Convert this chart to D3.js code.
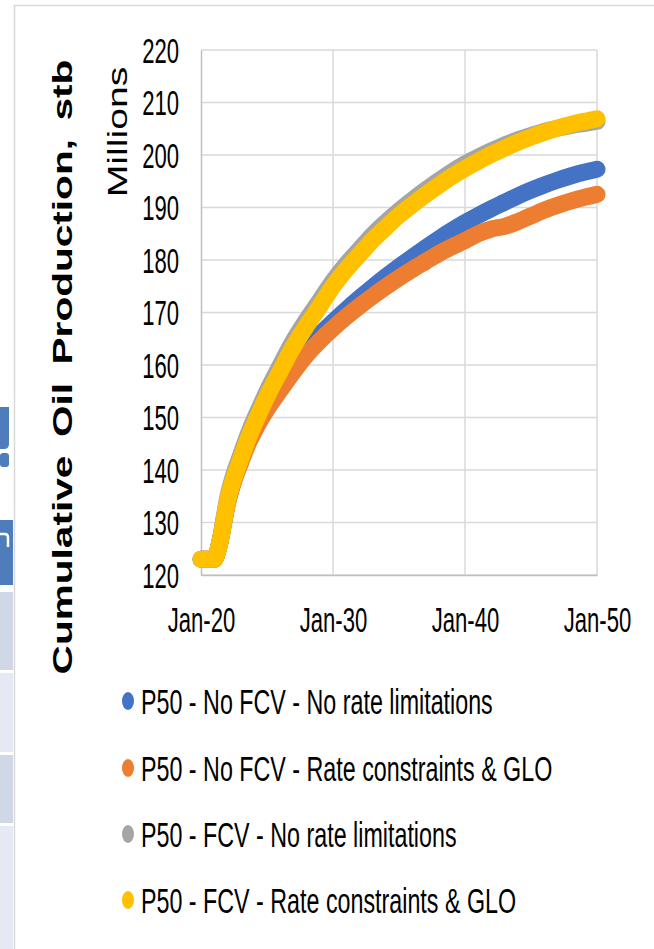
<!DOCTYPE html>
<html>
<head>
<meta charset="utf-8">
<script src="https://cdn.jsdelivr.net/npm/d3@7"></script>
<style>
  html, body { margin: 0; padding: 0; background: #fff; }
  svg { display: block; font-family: "Liberation Sans", Arial, sans-serif; }
</style>
</head>
<body>
<svg id="chart" width="654" height="949"></svg>
<script>
// Sample dates (denser during the ramp-up years)
const dates = [
  "2020-01","2021-01","2021-04","2021-07","2021-10","2022-01","2022-07","2023-01",
  "2023-07","2024-01","2024-07","2025-01","2026-01","2027-01","2028-01","2029-01",
  "2030-01","2031-01","2032-01","2033-01","2034-01","2035-01","2036-01","2037-01",
  "2038-01","2039-01","2040-01","2041-01","2042-01","2043-01","2044-01","2045-01",
  "2046-01","2047-01","2048-01","2049-01","2050-01"
];

// Cumulative oil production, millions of stb
const noFcvNoLimits = [
  123,123,124.4,127,130.4,133.7,138.2,141.7,145.2,148,150.4,152.6,
  156.4,160,163,165.8,168.2,170.5,172.7,174.8,176.8,178.7,180.5,182.3,
  184,185.6,187.1,188.5,189.8,191,192.2,193.3,194.3,195.2,196,196.7,197.3
];
const noFcvConstrained = [
  123,123,124.4,127,130.4,133.6,138,141.4,144.6,147.2,149.5,151.6,
  155.2,158.7,161.9,164.6,167,169.2,171.2,173.1,174.9,176.6,178.2,179.7,
  181.2,182.5,183.7,185,185.9,186.4,187.3,188.4,189.5,190.4,191.2,191.9,192.5
];
const fcvNoLimits = [
  123,123,124.5,127.2,130.9,134.5,139.2,142.8,146.3,149.4,152.2,155,
  159.9,164.6,168.6,172.3,176,179.2,182,184.8,187.2,189.4,191.4,193.3,
  195.1,196.8,198.3,199.6,200.8,201.9,202.9,203.7,204.5,205.1,205.6,206,206.4
];
const fcvConstrained = [
  123,123,124.4,127,130.5,134,138.5,142,145.5,148.5,151.3,154,
  158.8,163.5,167.5,171.2,175,178.2,181,183.8,186.2,188.5,190.5,192.4,
  194.2,195.9,197.4,198.8,200.1,201.3,202.4,203.4,204.3,205.1,205.8,206.4,206.9
];

const seriesNames = [
  "P50 - No FCV - No rate limitations",
  "P50 - No FCV - Rate constraints & GLO",
  "P50 - FCV - No rate limitations",
  "P50 - FCV - Rate constraints & GLO"
];
const seriesColors = ["#4472C4", "#ED7D31", "#A5A5A5", "#FFC000"];
const seriesValues = [noFcvNoLimits, noFcvConstrained, fcvNoLimits, fcvConstrained];

const yTicks = [120,130,140,150,160,170,180,190,200,210,220];
const xTickYears = ["2020-01","2030-01","2040-01","2050-01"];

const yAxisTitle = "Cumulative Oil Production, stb";
const yUnitLabel = "Millions";

const parseMonth = d3.timeParse("%Y-%m");
const svg = d3.select("#chart");

// Frame of the surrounding sheet
const deco = svg.append("g");
deco.append("path").attr("d", "M0,407 H9 V444 Q9,449 4,449 H0 Z").attr("fill", "#4f7cba");
deco.append("rect").attr("x", 0).attr("y", 453).attr("width", 9).attr("height", 14).attr("rx", 3).attr("fill", "#4f7cba");
deco.append("rect").attr("x", 0).attr("y", 520).attr("width", 13).attr("height", 65).attr("fill", "#4f7cba");
deco.append("path").attr("d", "M0,534 H5 Q8,534 8,538 V547").attr("fill", "none").attr("stroke", "#fff").attr("stroke-width", 2.5);
deco.append("rect").attr("x", 0).attr("y", 592).attr("width", 13).attr("height", 78).attr("fill", "#d0d7e7");
deco.append("rect").attr("x", 0).attr("y", 673).attr("width", 13).attr("height", 79).attr("fill", "#e5e9f3");
deco.append("rect").attr("x", 0).attr("y", 755).attr("width", 13).attr("height", 68).attr("fill", "#d0d7e7");
deco.append("rect").attr("x", 0).attr("y", 826).attr("width", 13).attr("height", 123).attr("fill", "#e5e9f3");
deco.append("path").attr("d", "M14.5,949 V5.5 H654").attr("fill", "none").attr("stroke", "#d9d9d9").attr("stroke-width", 1.5);

// Scales
const x = d3.scaleTime()
  .domain([parseMonth("2020-01"), parseMonth("2050-01")])
  .range([201, 597]);
const y = d3.scaleLinear().domain([120, 220]).range([575, 50]);

// Gridlines
const grid = svg.append("g");
grid.selectAll("line.h").data(yTicks).join("line")
  .attr("x1", x.range()[0]).attr("x2", x.range()[1])
  .attr("y1", d => y(d)).attr("y2", d => y(d))
  .attr("stroke", "#d9d9d9").attr("stroke-width", 1.5);
grid.selectAll("line.v").data(xTickYears.slice(1).map(parseMonth)).join("line")
  .attr("x1", d => x(d)).attr("x2", d => x(d))
  .attr("y1", y.range()[1]).attr("y2", y.range()[0])
  .attr("stroke", "#d9d9d9").attr("stroke-width", 1.5);

// Axes
const yAxis = svg.append("g")
  .attr("transform", `translate(${x.range()[0]},0)`)
  .call(d3.axisLeft(y).tickValues(yTicks).tickSize(0).tickFormat(d3.format("d")));
yAxis.select(".domain").attr("stroke", "#bfbfbf").attr("stroke-width", 1.5);
yAxis.selectAll("text")
  .attr("x", null).attr("dy", "0.36em")
  .attr("transform", "translate(-22,0) scale(0.96,1.5)")
  .attr("font-size", 23).attr("fill", "#000")
  .attr("font-family", "Liberation Sans, Arial, sans-serif");

const xAxis = svg.append("g")
  .attr("transform", `translate(0,${y.range()[0]})`)
  .call(d3.axisBottom(x).tickValues(xTickYears.map(parseMonth)).tickSize(0).tickFormat(d3.timeFormat("%b-%y")));
xAxis.select(".domain").attr("stroke", "#bfbfbf").attr("stroke-width", 1.5);
xAxis.selectAll("text")
  .attr("y", null).attr("dy", "0.36em")
  .attr("transform", "translate(0,45) scale(0.96,1.5)")
  .attr("font-size", 23).attr("fill", "#000")
  .attr("font-family", "Liberation Sans, Arial, sans-serif");

// Series lines
const line = d3.line()
  .x(d => x(d.date))
  .y(d => y(d.value))
  .curve(d3.curveMonotoneX);

const series = seriesNames.map((name, i) => ({
  name,
  color: seriesColors[i],
  points: dates.map((dt, j) => ({ date: parseMonth(dt), value: seriesValues[i][j] }))
}));

svg.append("g").selectAll("path").data(series).join("path")
  .attr("d", d => line(d.points))
  .attr("fill", "none")
  .attr("stroke", d => d.color)
  .attr("stroke-width", 17)
  .attr("stroke-linecap", "round")
  .attr("stroke-linejoin", "round");

// Axis titles
svg.append("text")
  .attr("transform", "translate(72,367) rotate(-90) scale(1.45,1)")
  .attr("text-anchor", "middle")
  .attr("font-size", 28).attr("font-weight", "bold")
  .attr("word-spacing", 5)
  .attr("fill", "#000")
  .text(yAxisTitle);

svg.append("text")
  .attr("transform", "translate(127,132) rotate(-90) scale(1.45,1)")
  .attr("text-anchor", "middle")
  .attr("font-size", 27)
  .attr("fill", "#000")
  .text(yUnitLabel);

// Legend
const legendY = [701, 768, 834, 900];
const legend = svg.append("g").selectAll("g").data(series).join("g")
  .attr("transform", (d, i) => `translate(128,${legendY[i]})`);
legend.append("ellipse").attr("rx", 6).attr("ry", 9).attr("fill", d => d.color);
legend.append("text")
  .attr("transform", "translate(13,0) scale(0.97,1.45)")
  .attr("dy", "0.36em")
  .attr("font-size", 24)
  .attr("fill", "#000")
  .text(d => d.name);
</script>
</body>
</html>
